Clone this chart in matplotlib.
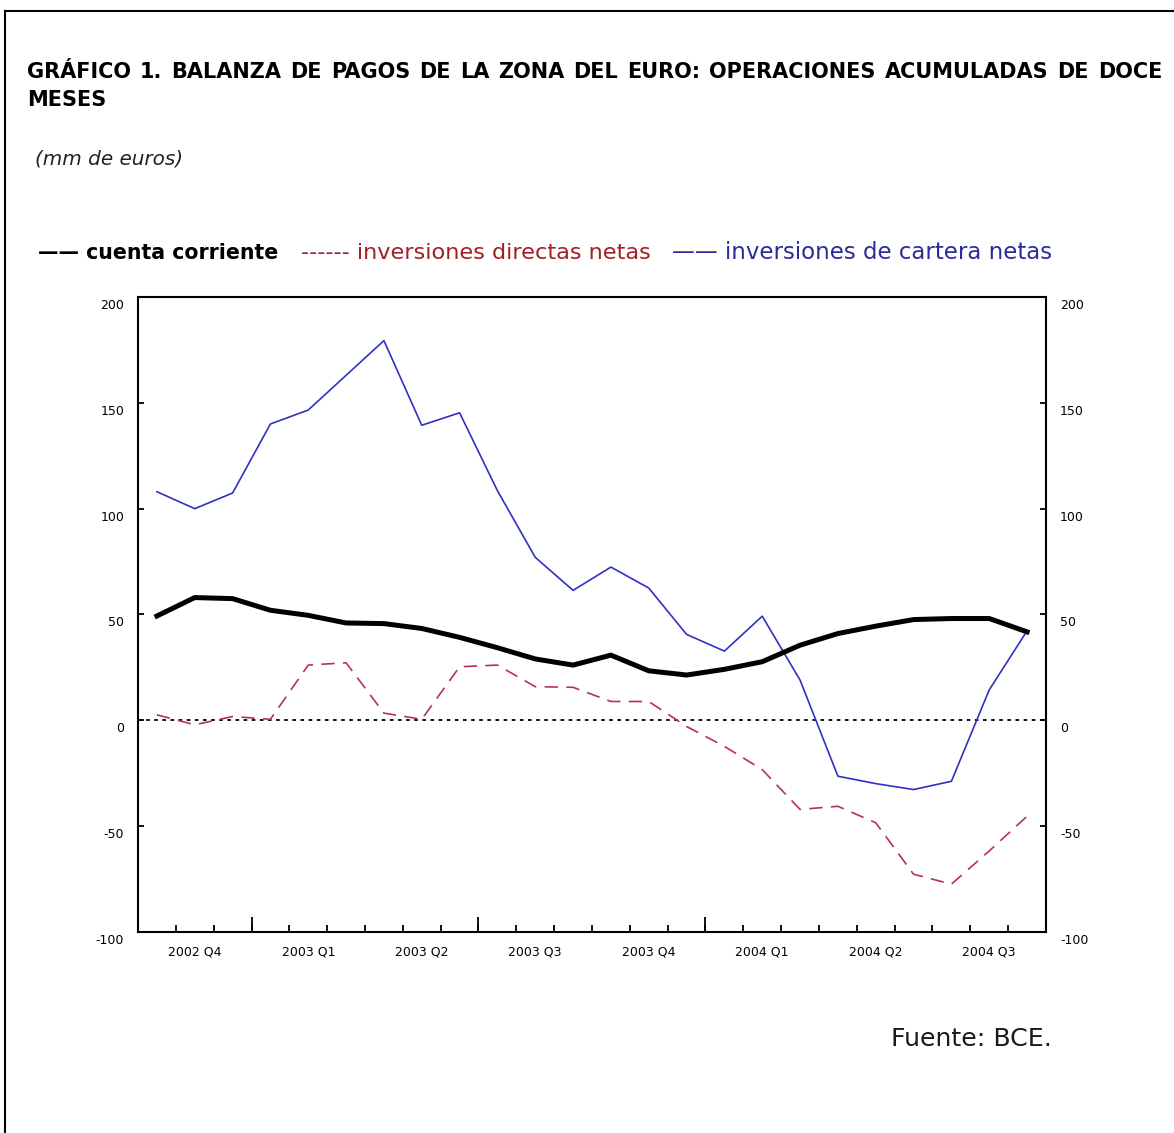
import numpy as np
import matplotlib
matplotlib.use("Agg")
import matplotlib.pyplot as plt
from matplotlib.lines import Line2D
from matplotlib.transforms import ScaledTranslation

# ---------------- data (mm de euros), monthly Oct-2002 .. Sep-2004 ----------------
quarters = ["2002 Q4", "2003 Q1", "2003 Q2", "2003 Q3",
            "2003 Q4", "2004 Q1", "2004 Q2", "2004 Q3"]
cuenta_corriente = [49.3, 58.0, 57.5, 52.0, 49.6, 46.0, 45.7, 43.4, 39.2, 34.3, 29.0, 26.1,
                    30.8, 23.4, 21.4, 24.1, 27.7, 35.5, 41.0, 44.5, 47.6, 48.1, 48.1, 41.8]
inv_directas = [2.6, -2.1, 1.8, 0.5, 26.1, 27.2, 3.4, 0.5, 25.3, 26.1, 15.9, 15.6,
                8.9, 8.9, -2.9, -12.3, -23.3, -42.1, -40.6, -48.4, -72.7, -77.4, -61.7, -45.3]
inv_cartera = [108.0, 100.0, 107.4, 140.0, 146.6, 163.0, 179.4, 139.4, 145.3, 108.5, 77.0, 61.4,
               72.4, 62.5, 40.6, 32.7, 49.2, 19.0, -26.4, -29.9, -32.7, -28.8, 14.4, 42.3]
yticks = [-100, -50, 0, 50, 100, 150, 200]

W, H = 1174, 1133
fig = plt.figure(figsize=(W / 100, H / 100), dpi=100)
fig.patch.set_facecolor("white")

def fx(px):
    return px / W

def fy(py):
    return 1 - py / H

# page frame (top and left border)
fig.add_artist(Line2D([fx(5), 1], [fy(11), fy(11)], color="black", lw=1.5))
fig.add_artist(Line2D([fx(5), fx(5)], [fy(11), 0], color="black", lw=1.5))

# ---------------- axes ----------------
L, R, T, B = 138, 1046, 297, 932
ax = fig.add_axes([fx(L), fy(B), fx(R - L), (B - T) / H])
n = len(cuenta_corriente)
x = np.arange(n) + 0.5

ax.axhline(0, color="black", lw=1.3, ls=(0, (2, 2.5)), zorder=1)
ax.plot(x, inv_directas, color="#b8305a", lw=1.2, ls=(0, (8, 5)), zorder=2)
ax.plot(x, inv_cartera, color="#3030c4", lw=1.2, zorder=3)
ax.plot(x, cuenta_corriente, color="black", lw=3.6, zorder=4, solid_joinstyle="round")

ax.set_xlim(0, n)
ax.set_ylim(-100, 200)
for s in ax.spines.values():
    s.set_linewidth(1.5)

# x ticks: labels at quarter centres, small month ticks, long half-year ticks
ax.set_xticks(np.arange(1.5, n, 3))
ax.set_xticklabels(quarters, fontsize=9, family="DejaVu Sans")
ax.set_xticks(np.arange(1, n), minor=True)
ax.tick_params(axis="x", which="major", length=0, pad=10)
ax.tick_params(axis="x", which="minor", length=5, width=1.3, direction="in")
sec = ax.secondary_xaxis("bottom")
sec.set_xticks([3, 9, 15])
sec.tick_params(length=11, width=1.3, direction="in", labelbottom=False)
sec.spines["bottom"].set_visible(False)

# y ticks both sides
ax.set_yticks(yticks)
ax.set_yticklabels([str(v) for v in yticks], fontsize=9, family="DejaVu Sans")
ax.tick_params(axis="y", which="major", direction="in", length=4, width=1.3,
               left=True, right=True, labelleft=True, labelright=True, pad=10)
shift = ScaledTranslation(0, -0.07, fig.dpi_scale_trans)
for tk in ax.yaxis.get_major_ticks():
    tk.label1.set_transform(tk.label1.get_transform() + shift)
    tk.label2.set_transform(tk.label2.get_transform() + shift)

# ---------------- texts ----------------
r = fig.canvas.get_renderer()

def fit(x0, x1, base, s, size=14, **kw):
    t = fig.text(fx(x0), fy(base), s, va="baseline", ha="left", fontsize=size, **kw)
    w = t.get_window_extent(r).width
    t.set_fontsize(size * (x1 - x0) / w)
    return t

def justify(words, x0, x1, base, size, **kw):
    texts = [fig.text(0, fy(base), w, va="baseline", ha="left", fontsize=size, **kw) for w in words]
    widths = [t.get_window_extent(r).width for t in texts]
    sp = size * 0.35
    if sum(widths) + sp * (len(words) - 1) > (x1 - x0):
        k = (x1 - x0 - sp * (len(words) - 1)) / sum(widths)
        for t in texts:
            t.set_fontsize(size * k)
        widths = [t.get_window_extent(r).width for t in texts]
    gap = (x1 - x0 - sum(widths)) / (len(words) - 1)
    xx = x0
    for t, w in zip(texts, widths):
        t.set_x(fx(xx))
        xx += w + gap
    return texts[0].get_fontsize()

title1 = "GRÁFICO 1. BALANZA DE PAGOS DE LA ZONA DEL EURO: OPERACIONES ACUMULADAS DE DOCE"
tsize = justify(title1.split(" "), 27, 1162, 78, 15, family="DejaVu Sans", weight="bold", color="black")
fig.text(fx(27), fy(106), "MESES", va="baseline", ha="left", fontsize=tsize,
         family="DejaVu Sans", weight="bold", color="black")

fit(35, 184, 164, "(mm de euros)", family="DejaVu Sans", style="italic", color="#222222")

fit(38, 279, 259, "—— cuenta corriente", family="DejaVu Sans", weight="bold", color="black")
fit(301, 651, 259, "------ inversiones directas netas", family="DejaVu Sans", color="#a31f24")
fit(672, 1053, 259, "—— inversiones de cartera netas", family="DejaVu Sans", color="#2b2b9c")

fit(891, 1052, 1046, "Fuente: BCE.", family="DejaVu Sans", color="#1a1a1a")

fig.savefig("out.png", dpi=100, facecolor="white")
